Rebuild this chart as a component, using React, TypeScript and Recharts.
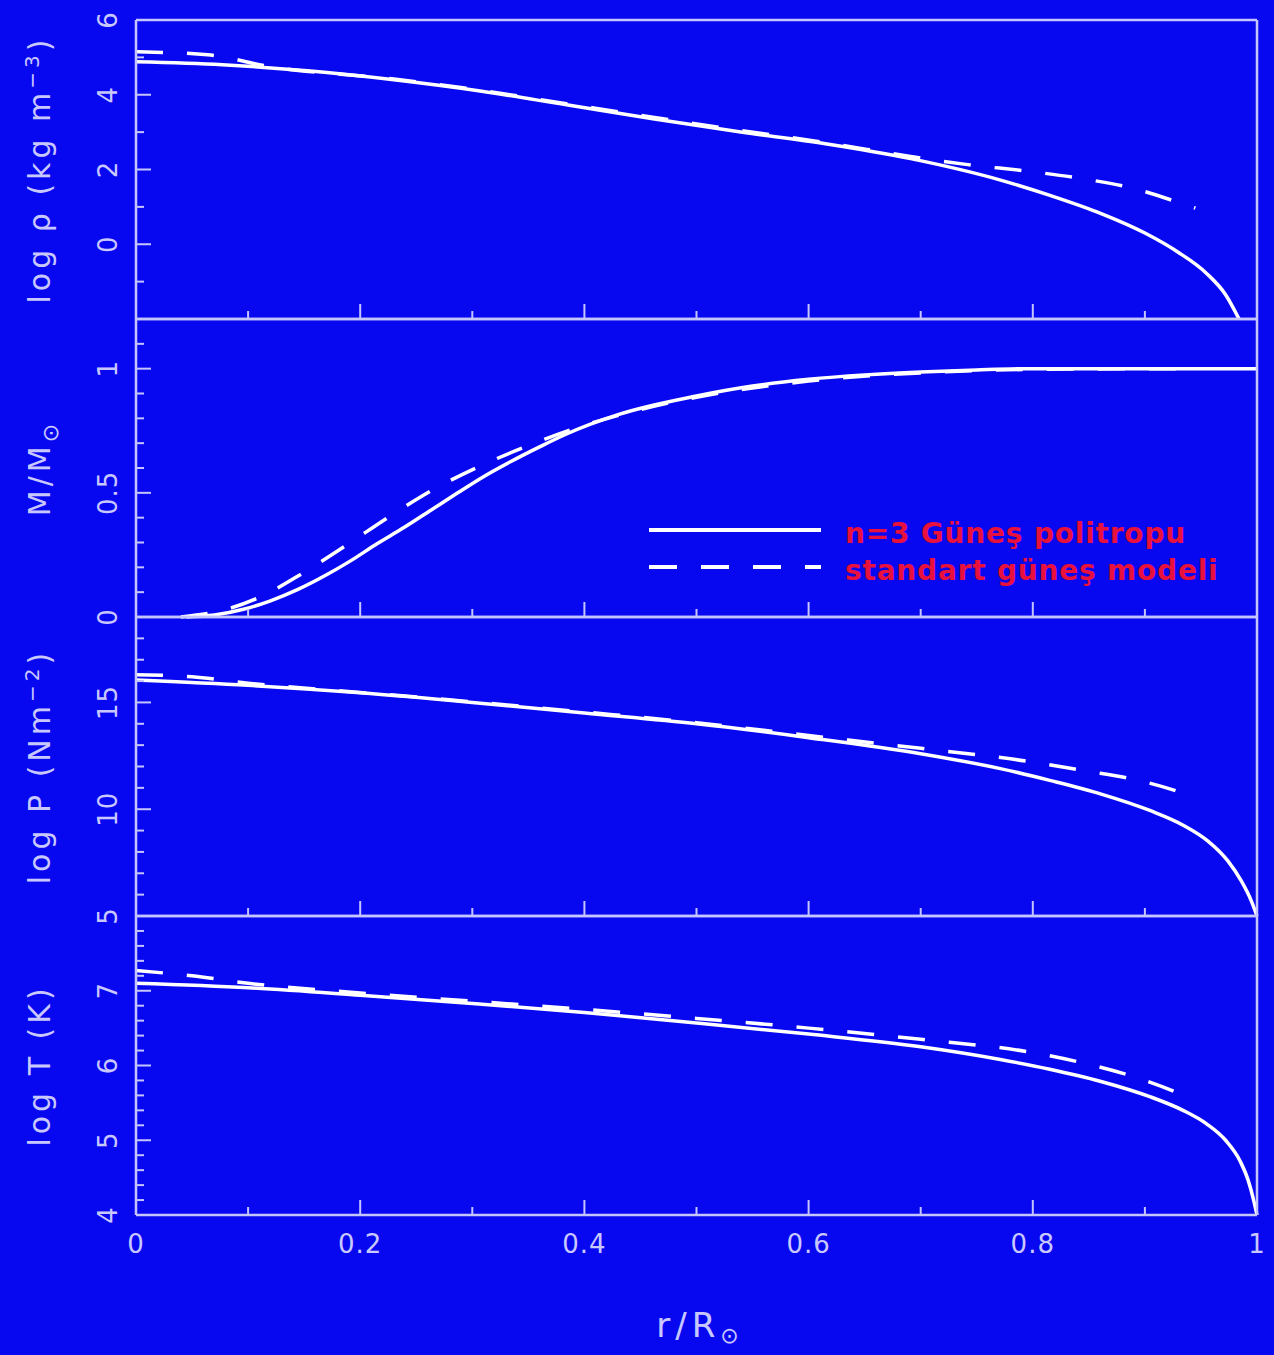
import React from "react";
import { LineChart, Line, XAxis, YAxis, Legend } from "recharts";

const W = 1274;
const H = 1355;
const BG = "#0808f0";
const AXIS = "#c4c4ff";
const TEXT = "#c8c8ff";
const CURVE = "#ffffff";
const RED = "#e8103c";
const FONT = "DejaVu Sans, Verdana, sans-serif";

const PLOT_LEFT = 136;
const PLOT_RIGHT = 1257;
const TITLE_X = 50;
const TICKLABEL_X = 117;

const polyName = "n=3 Güneş politropu";
const ssmName = "standart güneş modeli";

// r / R_sun axis
const xTicks = [0, 0.1, 0.2, 0.3, 0.4, 0.5, 0.6, 0.7, 0.8, 0.9, 1];
const xMajor = [0, 0.2, 0.4, 0.6, 0.8, 1];
const xLabels = ["0", "0.2", "0.4", "0.6", "0.8", "1"];

// panel 1: log rho
const rhoTicks = [-2, -1, 0, 1, 2, 3, 4, 5, 6];
const rhoMajor = [-2, 0, 2, 4, 6];
const rhoLabels = [0, 2, 4, 6];
const rRhoPoly = [0, 0.077, 0.153, 0.23, 0.307, 0.384, 0.461, 0.538, 0.615, 0.691, 0.772, 0.816, 0.861, 0.9, 0.93, 0.955, 0.972, 0.984];
const rhoPoly = [4.88, 4.8, 4.64, 4.4, 4.1, 3.73, 3.36, 3.01, 2.69, 2.29, 1.71, 1.3, 0.82, 0.3, -0.22, -0.78, -1.35, -2.0];
const rRhoSsm = [0, 0.064, 0.12, 0.23, 0.307, 0.384, 0.461, 0.538, 0.615, 0.691, 0.742, 0.797, 0.843, 0.889, 0.932, 0.945];
const rhoSsm = [5.15, 5.07, 4.75, 4.42, 4.12, 3.76, 3.4, 3.05, 2.72, 2.35, 2.13, 1.95, 1.76, 1.5, 1.1, 0.97];

// panel 2: M / M_sun
const mTicks = [0, 0.1, 0.2, 0.3, 0.4, 0.5, 0.6, 0.7, 0.8, 0.9, 1, 1.1, 1.2];
const mMajor = [0, 0.5, 1];
const mLabels = [0, 0.5, 1];
const rMPoly = [0.045, 0.07, 0.095, 0.12, 0.144, 0.17, 0.191, 0.215, 0.239, 0.263, 0.287, 0.31, 0.334, 0.36, 0.383, 0.43, 0.5, 0.55, 0.6, 0.65, 0.7, 0.75, 0.8, 1.0];
const mPoly = [0, 0.008, 0.03, 0.065, 0.11, 0.17, 0.225, 0.295, 0.36, 0.43, 0.5, 0.565, 0.625, 0.685, 0.735, 0.815, 0.89, 0.93, 0.957, 0.975, 0.987, 0.995, 1.0, 1.0];
const rMSsm = [0.04, 0.08, 0.108, 0.15, 0.188, 0.228, 0.266, 0.308, 0.35, 0.392, 0.45, 0.5, 0.6, 0.7, 0.8, 0.945];
const mSsm = [0, 0.03, 0.075, 0.18, 0.29, 0.41, 0.515, 0.61, 0.69, 0.76, 0.835, 0.885, 0.95, 0.983, 0.997, 1.0];

// panel 3: log P
const pTicks = [5, 6, 7, 8, 9, 10, 11, 12, 13, 14, 15, 16, 17, 18, 19];
const pMajor = [5, 10, 15];
const pLabels = [5, 10, 15];
const rPPoly = [0, 0.1, 0.2, 0.3, 0.4, 0.5, 0.6, 0.7, 0.772, 0.816, 0.861, 0.905, 0.935, 0.956, 0.974, 0.986, 0.995, 1.0];
const pPoly = [16.05, 15.8, 15.45, 15.0, 14.5, 14.0, 13.35, 12.6, 11.89, 11.34, 10.71, 9.93, 9.23, 8.52, 7.58, 6.64, 5.7, 5.0];
const rPSsm = [0, 0.05, 0.1, 0.2, 0.3, 0.4, 0.5, 0.6, 0.7, 0.801, 0.846, 0.89, 0.937, 0.945];
const pSsm = [16.3, 16.2, 15.9, 15.47, 15.03, 14.55, 14.05, 13.45, 12.85, 12.2, 11.8, 11.4, 10.7, 10.55];

// panel 4: log T
const tTicks = [4, 4.2, 4.4, 4.6, 4.8, 5, 5.2, 5.4, 5.6, 5.8, 6, 6.2, 6.4, 6.6, 6.8, 7, 7.2, 7.4, 7.6, 7.8, 8];
const tMajor = [4, 5, 6, 7, 8];
const tLabels = [4, 5, 6, 7];
const rTPoly = [0, 0.1, 0.2, 0.3, 0.4, 0.5, 0.6, 0.7, 0.771, 0.815, 0.86, 0.905, 0.934, 0.955, 0.972, 0.985, 0.992, 0.997, 1.0];
const tPoly = [7.1, 7.04, 6.94, 6.83, 6.71, 6.57, 6.42, 6.25, 6.08, 5.95, 5.79, 5.58, 5.4, 5.22, 5.0, 4.72, 4.47, 4.2, 4.0];
const rTSsm = [0, 0.05, 0.1, 0.2, 0.3, 0.4, 0.5, 0.6, 0.7, 0.801, 0.846, 0.89, 0.934, 0.945];
const tSsm = [7.27, 7.2, 7.1, 6.97, 6.86, 6.75, 6.63, 6.5, 6.35, 6.17, 6.03, 5.85, 5.6, 5.52];

const zip = (r: number[], v: number[]) => r.map((x, i) => ({ r: x, v: v[i] }));
const isIn = (list: number[], v: number) => list.some((m) => Math.abs(m - v) < 1e-6);

const panels = [
  {
    top: 20, bottom: 319, domain: [-2, 6], ticks: rhoTicks, major: rhoMajor, labels: rhoLabels,
    title: { main: "log ρ (kg m", sup: "−3", tail: ")" },
    poly: zip(rRhoPoly, rhoPoly), ssm: zip(rRhoSsm, rhoSsm),
  },
  {
    top: 319, bottom: 617, domain: [0, 1.2], ticks: mTicks, major: mMajor, labels: mLabels,
    title: { main: "M/M", sub: "⊙" },
    poly: zip(rMPoly, mPoly), ssm: zip(rMSsm, mSsm), legend: true,
  },
  {
    top: 617, bottom: 916, domain: [5, 19], ticks: pTicks, major: pMajor, labels: pLabels,
    title: { main: "log P (Nm", sup: "−2", tail: ")" },
    poly: zip(rPPoly, pPoly), ssm: zip(rPSsm, pSsm),
  },
  {
    top: 916, bottom: 1215, domain: [4, 8], ticks: tTicks, major: tMajor, labels: tLabels,
    title: { main: "log T (K)" },
    poly: zip(rTPoly, tPoly), ssm: zip(rTSsm, tSsm), xLabels: true,
  },
];

const labelStyle = { fontFamily: FONT, fontSize: 26, letterSpacing: 1, fill: TEXT };

const makeXTick = (side: "top" | "bottom", withLabels: boolean) => (props: any) => {
  const { x, y, payload } = props;
  const v = payload.value;
  const dir = side === "bottom" ? -1 : 1;
  const len = isIn(xMajor, v) ? 15 : 8;
  const idx = xMajor.findIndex((m) => Math.abs(m - v) < 1e-6);
  return (
    <g>
      <line x1={x} x2={x} y1={y} y2={y + dir * len} stroke={AXIS} strokeWidth={2} />
      {withLabels && idx >= 0 && (
        <text x={x} y={y + 38} textAnchor="middle" {...labelStyle}>
          {xLabels[idx]}
        </text>
      )}
    </g>
  );
};

const makeYTick = (side: "left" | "right", major: number[], labels: number[] | null) => (props: any) => {
  const { x, y, payload } = props;
  const v = payload.value;
  const dir = side === "left" ? 1 : -1;
  const len = isIn(major, v) ? 15 : 8;
  return (
    <g>
      <line x1={x} x2={x + dir * len} y1={y} y2={y} stroke={AXIS} strokeWidth={2} />
      {labels && isIn(labels, v) && (
        <text
          x={TICKLABEL_X}
          y={y}
          transform={`rotate(-90 ${TICKLABEL_X} ${y})`}
          textAnchor="middle"
          {...labelStyle}
        >
          {String(v)}
        </text>
      )}
    </g>
  );
};

const YTitle = ({ cy, main, sup, tail, sub }: any) => (
  <text
    x={TITLE_X}
    y={cy}
    transform={`rotate(-90 ${TITLE_X} ${cy})`}
    textAnchor="middle"
    fill={TEXT}
    fontFamily={FONT}
    fontSize={30}
    letterSpacing={4}
  >
    <tspan>{main}</tspan>
    {sup && (
      <tspan dy={-11} fontSize={20}>
        {sup}
      </tspan>
    )}
    {sup && <tspan dy={11}>{tail}</tspan>}
    {sub && (
      <tspan dy={8} fontSize={22}>
        {sub}
      </tspan>
    )}
  </text>
);

const XTitle = () => (
  <text x={700} y={1337} textAnchor="middle" fill={TEXT} fontFamily={FONT} fontSize={34} letterSpacing={5}>
    r/R
    <tspan dy={6} fontSize={22}>
      ⊙
    </tspan>
  </text>
);

const LegendBox = (props: any) => {
  const items = props.payload ?? [];
  return (
    <svg width={600} height={90} style={{ overflow: "visible" }}>
      {items.map((it: any, i: number) => {
        const dashed = it.value === ssmName;
        const ly = dashed ? 62 : 25;
        return (
          <g key={i}>
            <line x1={0} x2={172} y1={ly} y2={ly} stroke={CURVE} strokeWidth={4} strokeDasharray={dashed ? "28 24" : undefined} />
            <text x={196} y={ly + 13} fill={RED} fontFamily={FONT} fontSize={28} fontWeight="bold" letterSpacing={0.8}>
              {it.value}
            </text>
          </g>
        );
      })}
    </svg>
  );
};

// axes get a 1px box (recharts skips axes of zero size); margins are reduced by that pixel
const Panel = ({ p }: { p: any }) => (
  <div style={{ position: "absolute", left: 0, top: 0 }}>
    <LineChart
      width={W}
      height={H}
      margin={{ top: p.top - 1, bottom: H - p.bottom - 1, left: PLOT_LEFT - 1, right: W - PLOT_RIGHT - 1 }}
    >
      <XAxis
        xAxisId="b"
        type="number"
        dataKey="r"
        domain={[0, 1]}
        ticks={xTicks}
        interval={0}
        height={1}
        tickSize={0}
        tickMargin={0}
        tickLine={false}
        axisLine={{ stroke: AXIS, strokeWidth: 2.5 }}
        tick={makeXTick("bottom", !!p.xLabels)}
        label={p.xLabels ? <XTitle /> : undefined}
      />
      <XAxis
        xAxisId="t"
        orientation="top"
        type="number"
        dataKey="r"
        domain={[0, 1]}
        ticks={xTicks}
        interval={0}
        height={1}
        tickSize={0}
        tickMargin={0}
        tickLine={false}
        axisLine={{ stroke: AXIS, strokeWidth: 2.5 }}
        tick={makeXTick("top", false)}
      />
      <YAxis
        yAxisId="l"
        type="number"
        domain={p.domain}
        ticks={p.ticks}
        interval={0}
        width={1}
        tickSize={0}
        tickMargin={0}
        tickLine={false}
        axisLine={{ stroke: AXIS, strokeWidth: 2.5 }}
        tick={makeYTick("left", p.major, p.labels)}
        label={<YTitle cy={(p.top + p.bottom) / 2} {...p.title} />}
      />
      <YAxis
        yAxisId="r"
        orientation="right"
        type="number"
        domain={p.domain}
        ticks={p.ticks}
        interval={0}
        width={1}
        tickSize={0}
        tickMargin={0}
        tickLine={false}
        axisLine={{ stroke: AXIS, strokeWidth: 2.5 }}
        tick={makeYTick("right", p.major, null)}
      />
      <Line
        xAxisId="b"
        yAxisId="l"
        data={p.poly}
        dataKey="v"
        name={polyName}
        type="monotone"
        stroke={CURVE}
        strokeWidth={3.5}
        dot={false}
        isAnimationActive={false}
      />
      <Line
        xAxisId="b"
        yAxisId="l"
        data={p.ssm}
        dataKey="v"
        name={ssmName}
        type="monotone"
        stroke={CURVE}
        strokeWidth={3.5}
        strokeDasharray="27 24"
        dot={false}
        isAnimationActive={false}
      />
      {p.legend && (
        <Legend
          layout="vertical"
          align="center"
          verticalAlign="middle"
          content={<LegendBox />}
          wrapperStyle={{ position: "absolute", left: 649, top: 505, width: 600, height: 90 }}
        />
      )}
    </LineChart>
  </div>
);

export default function App() {
  return (
    <div style={{ position: "absolute", left: 0, top: 0, width: W, height: H, background: BG, overflow: "hidden" }}>
      {panels.map((p, i) => (
        <Panel key={i} p={p} />
      ))}
    </div>
  );
}
